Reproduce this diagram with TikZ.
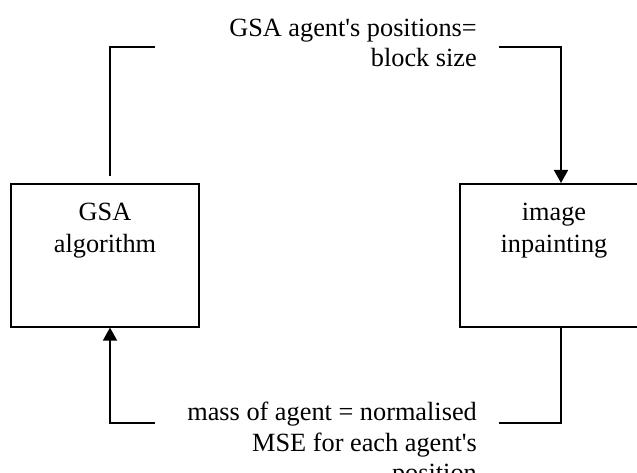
\documentclass[tikz,border=0pt]{standalone}
\usepackage{fontspec}
\setmainfont{Liberation Serif}[Ligatures=TeXOff]
\usetikzlibrary{arrows.meta}

\tikzset{
  block/.style={draw=black,line width=1.6bp,rectangle,minimum width=188bp,minimum height=143bp,
    inner sep=0pt,align=center,anchor=north,text height=50bp,text depth=56bp,
    font=\fontsize{26.4}{32}\selectfont},
  note/.style={inner sep=0pt,align=right,font=\fontsize{26.4}{31}\selectfont},
  wire/.style={black,line width=1.6bp},
  arrow/.style={wire,-{Triangle[length=13bp,width=14bp]}}
}

\begin{document}
\begin{tikzpicture}[x=1bp,y=1bp]

  \clip (0,0) rectangle (637,473);

  % Blocks
  \node[block] (gsa) at (105,290) {GSA\\algorithm};
  \node[block] (inp) at (554,290) {image\\inpainting};

  % Labels on the connectors
  \node[note,anchor=base east] (pos) at (477,406) {GSA agent's positions=\\block size};
  \node[note,anchor=base east] (mass) at (477,-9) {mass of agent = normalised\\MSE for each agent's\\position};

  % Corner points
  \coordinate (tl) at (155,426);
  \coordinate (tr) at (499,426);
  \coordinate (bl) at (155,50);
  \coordinate (br) at (499,50);

  % GSA algorithm to image inpainting
  \draw[wire] ([xshift=5bp,yshift=7bp]gsa.north) |- (tl);
  \draw[arrow] (tr) -| ([xshift=7bp]inp.north);

  % image inpainting back to GSA algorithm
  \draw[wire] ([xshift=7bp]inp.south) |- (br);
  \draw[arrow] (bl) -| ([xshift=5bp]gsa.south);

\end{tikzpicture}
\end{document}
